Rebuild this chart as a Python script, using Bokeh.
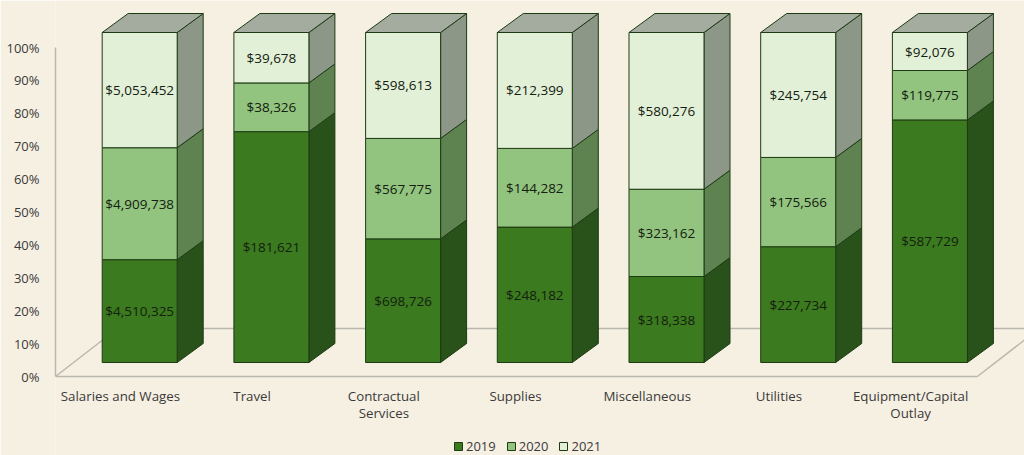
import re
from bokeh.plotting import figure
from bokeh.models import FixedTicker, Legend, LegendItem, Range1d
from bokeh.core.properties import value
from bokeh.embed import file_html
from bokeh.resources import INLINE

categories = ["Salaries and Wages", "Travel", "Contractual\nServices", "Supplies",
              "Miscellaneous", "Utilities", "Equipment/Capital\nOutlay"]
years = ["2019", "2020", "2021"]
v2019 = [4510325, 181621, 698726, 248182, 318338, 227734, 587729]
v2020 = [4909738, 38326, 567775, 144282, 323162, 175566, 119775]
v2021 = [5053452, 39678, 598613, 212399, 580276, 245754, 92076]
y_ticks = [0, 10, 20, 30, 40, 50, 60, 70, 80, 90, 100]

BG = "#f6f0e2"
FRONT = ["#3b7a1e", "#92c47f", "#e3f0d8"]
SIDE = ["#28521a", "#5f8350", "#8c9788"]
TOP = "#a3ac9e"
EDGE = "#1d3a14"
FONT = "Open Sans"

PX_X, PX_Y = 131.7, 3.29
W, H = 1024, 455
OX, OY = 55, 376

p = figure(width=W, height=H, output_backend="svg", toolbar_location=None,
           x_range=Range1d(0, (W - OX) / PX_X),
           y_range=Range1d(-(H - OY) / PX_Y, OY / PX_Y),
           min_border_left=OX, min_border_right=0, min_border_top=0,
           min_border_bottom=0, background_fill_color=BG, border_fill_color=BG)
p.outline_line_color = None
p.grid.visible = False

bar_w = 75.0 / PX_X
off_x, off_y = 46.7 / PX_X, 14.0 / PX_Y
dep_x, dep_y = 26.0 / PX_X, 19.0 / PX_Y
wall_x, wall_y = 62.0 / PX_X, 48.0 / PX_Y
scale_y = 330.0 / 329.0

# floor outline
WALL = "#b9b7ae"
end = len(categories)
p.line([0, wall_x, end + wall_x], [0, wall_y, wall_y], line_color=WALL, line_width=1.5)
p.line([end, end + wall_x], [0, wall_y], line_color=WALL, line_width=1.5)

series = [v2019, v2020, v2021]
first = []
lx, ly, lt = [], [], []
for i in range(end):
    vals = [s[i] for s in series]
    total = sum(vals)
    left = i + off_x
    right = left + bar_w
    bottom = off_y
    for k, val in enumerate(vals):
        h = val / total * 100 * scale_y
        top = bottom + h
        p.patch([right, right + dep_x, right + dep_x, right],
                [bottom, bottom + dep_y, top + dep_y, top],
                fill_color=SIDE[k], line_color=EDGE, line_width=1)
        r = p.quad(left=left, right=right, bottom=bottom, top=top,
                   fill_color=FRONT[k], line_color=EDGE, line_width=1)
        if i == 0:
            first.append(r)
        lx.append((left + right) / 2)
        ly.append((bottom + top) / 2)
        lt.append(f"${val:,}")
        bottom = top
    p.patch([left, right, right + dep_x, left + dep_x],
            [bottom, bottom, bottom + dep_y, bottom + dep_y],
            fill_color=TOP, line_color=EDGE, line_width=1)

p.text(x=lx, y=ly, text=lt, text_align="center", text_baseline="middle",
       text_font=value(FONT), text_font_size="13.5px", text_color="#14200f")

# y axis
ya = p.yaxis[0]
ya.ticker = FixedTicker(ticks=y_ticks)
ya.major_label_overrides = {t: f"{t}%" for t in y_ticks}
ya.bounds = (0, 100)
ya.axis_line_color = WALL
ya.axis_line_width = 1.5
ya.major_tick_line_color = None
ya.minor_tick_line_color = None
ya.major_label_standoff = 10
ya.major_label_text_font = FONT
ya.major_label_text_font_size = "13px"
ya.major_label_text_color = "#3a3a3a"

# x axis, pinned to the 0% line
xa = p.xaxis[0]
xa.fixed_location = 0
xa.ticker = FixedTicker(ticks=[i + 0.493 for i in range(end)])
xa.major_label_overrides = {i + 0.493: c for i, c in enumerate(categories)}
xa.bounds = (0, end)
xa.axis_line_color = WALL
xa.axis_line_width = 1.5
xa.major_tick_line_color = None
xa.minor_tick_line_color = None
xa.major_label_standoff = 4
xa.major_label_orientation = "horizontal"
xa.major_label_text_font = FONT
xa.major_label_text_font_size = "13.3px"
xa.major_label_text_color = "#3a3a3a"
xa.major_label_text_line_height = 0.95

legend = Legend(items=[LegendItem(label=y, renderers=[r]) for y, r in zip(years, first)],
                orientation="horizontal", location=(398, 0),
                background_fill_alpha=0, border_line_color=None,
                label_text_font=FONT, label_text_font_size="13px",
                label_text_color="#3a3a3a", glyph_width=10, glyph_height=10,
                label_standoff=3, spacing=10, padding=0, margin=0,
                label_height=14)
p.add_layout(legend, "center")

html = file_html(p, INLINE)
html = re.sub(r"<body[^>]*>", f'<body style="background:{BG};margin:0;overflow:hidden">', html, count=1)
open("out.html", "w").write(html)
